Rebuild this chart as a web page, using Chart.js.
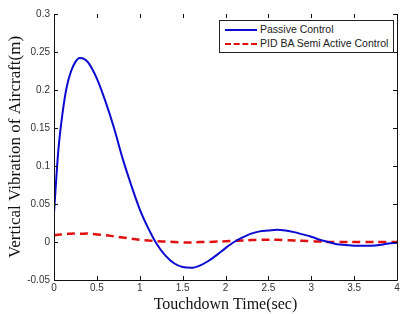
<!DOCTYPE html>
<html>
<head>
<meta charset="utf-8">
<script src="https://cdn.jsdelivr.net/npm/chart.js@4/dist/chart.umd.min.js"></script>
<style>
  body { margin: 0; background: #fff; }
  #wrap { position: relative; width: 405px; height: 314px; }
  #legend {
    position: absolute; left: 219px; top: 20px; width: 173px; height: 31px;
    border: 1px solid #222; background: #fff; overflow: hidden;
    font: 10.5px "Liberation Sans", Arial, sans-serif; color: #222;
  }
  .row { position: absolute; left: 5px; white-space: nowrap; }
  .sw { display: inline-block; width: 32px; height: 0; vertical-align: middle; margin-right: 3px; }
</style>
</head>
<body>
<div id="wrap">
  <canvas id="chart" width="405" height="314"></canvas>
  <div id="legend"></div>
</div>
<script>
const times = [0, 0.05, 0.1, 0.15, 0.2, 0.25, 0.3, 0.35, 0.4, 0.5, 0.6, 0.7, 0.8, 0.9, 1.0,
  1.1, 1.2, 1.3, 1.4, 1.5, 1.6, 1.7, 1.8, 1.9, 2.0, 2.1, 2.2, 2.3, 2.4, 2.5,
  2.6, 2.7, 2.8, 2.9, 3.0, 3.1, 3.2, 3.3, 3.4, 3.5, 3.6, 3.7, 3.8, 3.9, 4.0];

const passive = [0.038, 0.12, 0.17, 0.205, 0.225, 0.237, 0.242, 0.241, 0.236, 0.215, 0.185, 0.15, 0.11, 0.075, 0.043,
  0.018, -0.003, -0.018, -0.028, -0.033, -0.034, -0.031, -0.025, -0.017, -0.008, 0.0, 0.006, 0.011, 0.014, 0.015,
  0.016, 0.015, 0.013, 0.010, 0.007, 0.003, 0.0, -0.003, -0.004, -0.005, -0.005, -0.005, -0.004, -0.002, -0.001];

const semiActive = [0.009, 0.0095, 0.010, 0.0105, 0.011, 0.011, 0.011, 0.011, 0.011, 0.010, 0.009, 0.0075, 0.006, 0.0045, 0.003,
  0.002, 0.001, 0.0005, 0.0, -0.0005, -0.0005, 0.0, 0.0, 0.0005, 0.001, 0.0015, 0.002, 0.0025, 0.003, 0.003,
  0.003, 0.0025, 0.002, 0.0015, 0.001, 0.0005, 0.0, 0.0, 0.0, 0.0, 0.0, 0.0, 0.0, 0.0, 0.0];

const seriesNames = ["Passive Control", "PID BA Semi Active Control"];
const xTicks = [0, 0.5, 1, 1.5, 2, 2.5, 3, 3.5, 4];
const yTicks = [-0.05, 0, 0.05, 0.1, 0.15, 0.2, 0.25, 0.3];

const tickFont = { family: "Liberation Sans", size: 10 };
const xTitleFont = { family: "Liberation Serif", size: 16 };
const yTitleFont = { family: "Liberation Serif", size: 17 };

// MATLAB-style box with inward ticks
const boxPlugin = {
  id: "box",
  afterDatasetsDraw(chart) {
    const { ctx, chartArea: a, scales } = chart;
    ctx.save();
    ctx.strokeStyle = "#111";
    ctx.lineWidth = 1;
    ctx.beginPath();
    ctx.moveTo(a.left + 0.5, a.top);
    ctx.lineTo(a.left + 0.5, a.bottom + 0.5);
    ctx.lineTo(a.right + 0.5, a.bottom + 0.5);
    ctx.lineTo(a.right + 0.5, a.top);
    const len = 4;
    xTicks.forEach(v => {
      const px = Math.round(scales.x.getPixelForValue(v)) + 0.5;
      ctx.moveTo(px, a.bottom); ctx.lineTo(px, a.bottom - len);
      ctx.moveTo(px, a.top); ctx.lineTo(px, a.top + len);
    });
    yTicks.forEach(v => {
      const py = Math.round(scales.y.getPixelForValue(v)) + 0.5;
      ctx.moveTo(a.left, py); ctx.lineTo(a.left + len, py);
      ctx.moveTo(a.right, py); ctx.lineTo(a.right - len, py);
    });
    ctx.stroke();
    ctx.restore();
  }
};

const chart = new Chart(document.getElementById("chart"), {
  type: "line",
  data: {
    datasets: [
      {
        label: seriesNames[0],
        data: times.map((t, i) => ({ x: t, y: passive[i] })),
        borderColor: "#0a0ad0",
        borderWidth: 2,
        pointRadius: 0,
        cubicInterpolationMode: "monotone"
      },
      {
        label: seriesNames[1],
        data: times.map((t, i) => ({ x: t, y: semiActive[i] })),
        borderColor: "#e01010",
        borderWidth: 2.5,
        borderDash: [8, 5],
        pointRadius: 0,
        tension: 0.4
      }
    ]
  },
  options: {
    responsive: false,
    animation: false,
    layout: { padding: { top: 14, right: 8, left: 0, bottom: 0 } },
    plugins: { legend: { display: false }, tooltip: { enabled: false } },
    scales: {
      x: {
        type: "linear", min: 0, max: 4,
        afterFit(s) { s.height = 34; },
        afterBuildTicks(s) { s.ticks = xTicks.map(v => ({ value: v })); },
        grid: { display: false, drawTicks: false },
        border: { display: false },
        ticks: { font: tickFont, color: "#333", padding: 2, maxRotation: 0, callback: v => String(v) },
        title: { display: true, text: "Touchdown Time(sec)", font: xTitleFont, color: "#111", padding: { top: 0, bottom: 0 } }
      },
      y: {
        type: "linear", min: -0.05, max: 0.3,
        afterFit(s) { s.width = 54; },
        afterBuildTicks(s) { s.ticks = yTicks.map(v => ({ value: v })); },
        grid: { display: false, drawTicks: false },
        border: { display: false },
        ticks: { font: tickFont, color: "#333", padding: 4, callback: v => String(Math.round(v * 100) / 100) },
        title: { display: true, text: "Vertical Vibration of Aircraft(m)", font: yTitleFont, color: "#111", padding: { top: 5, bottom: 0 } }
      }
    }
  },
  plugins: [boxPlugin]
});

// legend box like the MATLAB one
const legend = document.getElementById("legend");
chart.data.datasets.forEach((ds, i) => {
  const row = document.createElement("div");
  row.className = "row";
  row.style.top = (2 + i * 14) + "px";
  const sw = document.createElement("span");
  sw.className = "sw";
  sw.style.borderTop = ds.borderWidth + "px " + (ds.borderDash ? "dashed " : "solid ") + ds.borderColor;
  row.appendChild(sw);
  row.appendChild(document.createTextNode(ds.label));
  legend.appendChild(row);
});
</script>
</body>
</html>
